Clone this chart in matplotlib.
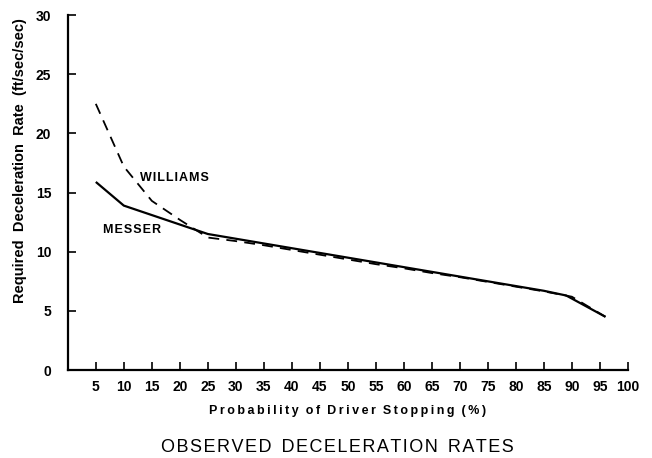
import matplotlib.pyplot as plt
import numpy as np

# probability of driver stopping (%) and required deceleration (ft/sec/sec)
messer_x = [5, 10, 15, 20, 25, 30, 35, 40, 45, 50, 55, 60, 65, 70, 75, 80, 85, 89, 96]
messer_y = [15.9, 13.9, 13.1, 12.3, 11.5, 11.1, 10.7, 10.3, 9.9, 9.5, 9.1, 8.7, 8.3, 7.9, 7.5, 7.1, 6.7, 6.3, 4.5]
williams_x = [5, 10, 15, 20, 25, 30, 35, 40, 45, 50, 55, 60, 65, 70, 75, 80, 85, 90, 96]
williams_y = [22.5, 17.2, 14.3, 12.7, 11.2, 10.9, 10.55, 10.15, 9.75, 9.35, 8.95, 8.6, 8.2, 7.85, 7.45, 7.05, 6.65, 6.2, 4.5]

x_ticks = list(range(5, 101, 5))
y_ticks = [0, 5, 10, 15, 20, 25, 30]

plt.rcParams['font.family'] = ['Liberation Sans', 'DejaVu Sans']

fig = plt.figure(figsize=(6.52, 4.58), dpi=100)
ax = fig.add_axes([0.104, 0.192, 0.859, 0.775])

ax.plot(messer_x, messer_y, color='black', lw=1.6, solid_capstyle='butt')
ax.plot(williams_x, williams_y, color='black', lw=1.3, ls=(0, (6, 4)))

# hair spaces widen the hand-lettered labels a little
ax.text(12.9, 16.2, 'W\u200aI\u200aL\u200aL\u200aI\u200aA\u200aM\u200aS', fontsize=9, fontweight='bold', va='center')
ax.text(6.3, 11.8, 'M\u200aE\u200aS\u200aS\u200aE\u200aR', fontsize=9, fontweight='bold', va='center')

ax.set_xlim(0, 100)
ax.set_ylim(0, 30)
ax.set_xticks(x_ticks)
ax.set_yticks(y_ticks)
ax.tick_params(direction='in', length=6, width=1.2, labelsize=10)
for lab in ax.get_xticklabels() + ax.get_yticklabels():
    lab.set_fontweight('bold')
ax.tick_params(axis='y', pad=12)
ax.tick_params(axis='x', pad=7)
for s in ['top', 'right']:
    ax.spines[s].set_visible(False)
for s in ['left', 'bottom']:
    ax.spines[s].set_linewidth(1.6)

ax.set_xlabel('P r o b a b i l i t y   o f   D r i v e r   S t o p p i n g   ( % )'.replace(' ', '\u2009').replace('\u2009\u2009\u2009', '  '),
              fontsize=9, fontweight='bold', labelpad=8)
ax.set_ylabel('Required  Deceleration  Rate  (ft/sec/sec)', fontsize=10.5, fontweight='bold', labelpad=8)
ax.yaxis.set_label_coords(-0.072, 0.59)

fig.text(0.518, 0.022, 'O B S E R V E D   D E C E L E R A T I O N   R A T E S'.replace(' ', '\u200a').replace('\u200a\u200a\u200a', '  '),
         fontsize=13, ha='center', va='center')

fig.savefig('out.png', dpi=100)
